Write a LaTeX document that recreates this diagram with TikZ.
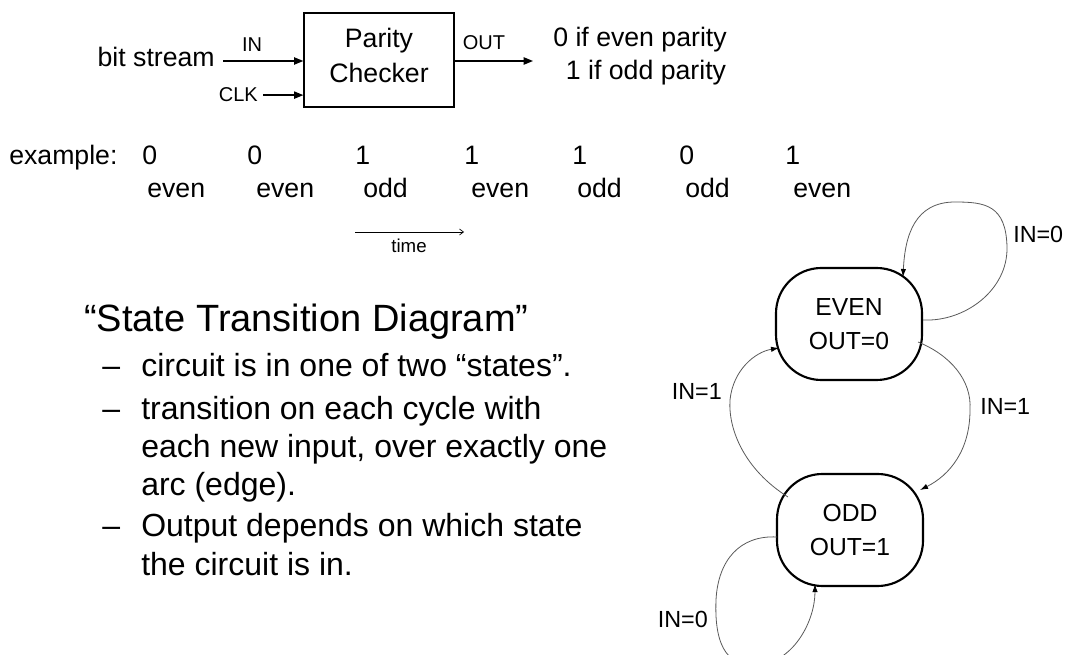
\documentclass[tikz,border=0pt]{standalone}
\usepackage{fontspec}
\setmainfont{Liberation Sans}
\usetikzlibrary{arrows.meta}

\tikzset{
  txt/.style={inner sep=0pt, font=\fontsize{20}{26}\selectfont},
  small/.style={inner sep=0pt, font=\fontsize{15}{18}\selectfont},
  big/.style={inner sep=0pt, font=\fontsize{28.5}{34}\selectfont},
  item/.style={inner sep=0pt, font=\fontsize{24}{28}\selectfont},
  sig/.style={line width=1pt, -{Triangle[length=7pt,width=5.5pt]}},
  block/.style={draw, line width=1pt, minimum width=112.5pt, minimum height=70.5pt, inner sep=0pt},
  state/.style={draw, line width=1.6pt, rounded corners=34pt, minimum width=109.5pt,
    minimum height=84pt, inner sep=0pt, align=center, font=\fontsize{18.5}{25}\selectfont},
  trans/.style={draw=black!65, line width=0.6pt, -{Latex[length=6pt,width=4pt,color=black]}},
  cond/.style={inner sep=0pt, font=\fontsize{17.5}{21}\selectfont},
}

\begin{document}
\begin{tikzpicture}[x=0.75pt, y=-0.75pt]
	\useasboundingbox (0,0) rectangle (1067,655);

	% parity checker block
	\node[block] (pc) at (379,60) {};
	\node[txt, align=center, font=\fontsize{20}{26.25}\selectfont] (pclbl) at ([yshift=3.5pt]pc.center) {Parity\\Checker};
	\node[txt, anchor=base east] (bs) at (215,67) {bit stream};
	\node[small, anchor=base] (inlbl) at (252,52) {IN};
	\node[small, anchor=base east] (clk) at (258,102) {CLK};
	\node[small, anchor=base] (outlbl) at (484,50) {OUT};
	\node[txt, anchor=base] (res0) at (640,47) {0 if even parity};
	\node[txt, anchor=base] (res1) at (646,80) {1 if odd parity};
	\coordinate (inA) at (223,61);
	\coordinate (outB) at (533,61);
	\draw[sig] (inA) -- (inA -| pc.west);
	\draw[sig] ([xshift=3.75pt]clk.east) -- (clk.east -| pc.west);
	\draw[sig] (outB -| pc.east) -- (outB);

	% example bit stream
	\node[txt, anchor=base west] (ex) at (9,165) {example:};
	\foreach \x/\u/\b/\w [count=\i] in {142/147/0/even, 247/256/0/even, 355/363/1/odd,
	    464/471/1/even, 572/577/1/odd, 679/685/0/odd, 785/793/1/even} {
		\node[txt, anchor=base west] (bit\i) at (\x,165) {\b};
		\node[txt, anchor=base west] (par\i) at (\u,198) {\w};
	}
	\coordinate (t0) at (355,232);
	\coordinate (t1) at (464,232);
	\draw[line width=0.5pt, -{Straight Barb[length=3pt,width=4.5pt]}] (t0) -- (t1);
	\node[small, font=\fontsize{14}{17}\selectfont, anchor=base] (time) at (409,253) {time};

	% text
	\node[big, anchor=base west] (title) at (84,332) {“State Transition Diagram”};
	\foreach \y [count=\i] in {377,420,537}
		\node[item, anchor=base west] (dash\i) at (102,\y) {–};
	\foreach \y/\t [count=\i] in {377/{circuit is in one of two “states”.},
	    420/{transition on each cycle with}, 457.5/{each new input, over exactly one},
	    495/{arc (edge).}, 537/{Output depends on which state}, 575/{the circuit is in.}}
		\node[item, anchor=base west] (line\i) at (141,\y) {\t};

	% state diagram
	\node[state] (even) at (849,324) {EVEN\\OUT=0};
	\node[state] (odd) at (850,530) {ODD\\OUT=1};
	\draw[trans] ([shift={(74,-4)}]even.center) .. controls (965,322) and (1008,290) .. (1007,247)
		.. controls (1006,205) and (985,202) .. (955,202)
		.. controls (915,202) and (905,235) .. ([shift={(54,-47)}]even.center);
	\draw[trans] ([shift={(69,18)}]even.center) .. controls (950,355) and (972,380) .. (970,410)
		.. controls (970,450) and (950,475) .. ([shift={(70,-40)}]odd.center);
	\draw[trans] ([shift={(-62,-33)}]odd.center) .. controls (745,470) and (728,430) .. (730,400)
		.. controls (733,370) and (755,352) .. ([shift={(-70,24)}]even.center);
	\draw[trans] ([shift={(-73,7)}]odd.center) .. controls (740,535) and (718,560) .. (716,600)
		.. controls (714,650) and (730,668) .. (760,665)
		.. controls (795,660) and (815,620) .. ([shift={(-35,54)}]odd.center);
	\node[cond, anchor=base west] (c00) at (1013,243) {IN=0};
	\node[cond, anchor=base west] (c01) at (980,415) {IN=1};
	\node[cond, anchor=base east] (c10) at (722,400) {IN=1};
	\node[cond, anchor=base east] (c11) at (708,627) {IN=0};
\end{tikzpicture}
\end{document}
